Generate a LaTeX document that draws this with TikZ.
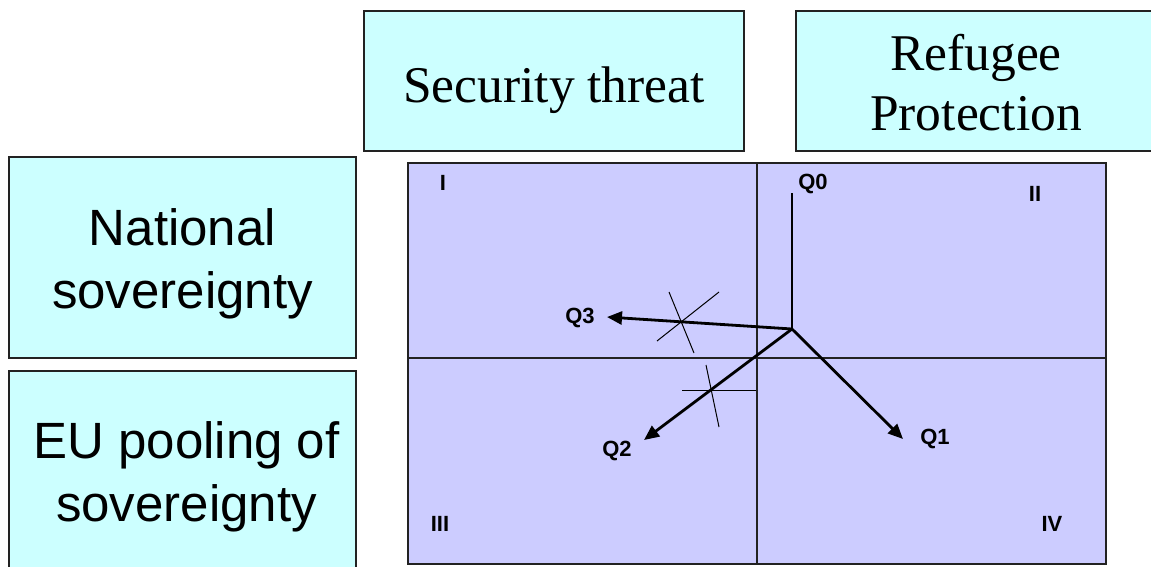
\documentclass[tikz,border=0pt]{standalone}
\usepackage{fontspec}
\setmainfont{Liberation Serif}
\newfontfamily\arialf{Liberation Sans}
\usetikzlibrary{arrows.meta}
\definecolor{cyanbg}{HTML}{CCFFFF}
\definecolor{purplebg}{HTML}{CCCCFF}
\definecolor{edge}{HTML}{222222}
\begin{document}
\begin{tikzpicture}[x=1pt,y=-1pt,
  labelbox/.style={draw=edge, line width=1.5pt, fill=cyanbg, inner sep=0pt},
  boxtext/.style={inner sep=0pt, align=center},
  serifbig/.style={font=\fontsize{51.5}{60}\selectfont},
  sansbig/.style={font=\arialf\fontsize{51}{63}\selectfont},
  qlabel/.style={font=\arialf\bfseries\fontsize{22}{24}\selectfont, inner sep=0pt},
  arrowline/.style={line width=2.8pt, -{Triangle[length=15pt,width=13pt]}},
  crossline/.style={line width=1pt},
  gridline/.style={line width=1.3pt, draw=edge}]
\useasboundingbox (0,0) rectangle (1151,566);
\clip (0,0) rectangle (1151,566);
% header boxes
\node[labelbox, minimum width=380pt, minimum height=140pt] (sec) at (554,81) {};
\node[boxtext, serifbig, text depth=0pt] (secT) at ([yshift=-4pt]sec.center) {Security threat};
\node[labelbox, minimum width=360pt, minimum height=140pt] (ref) at (976,81) {};
\node[boxtext, serifbig] (refT) at ([yshift=-2pt]ref.center) {Refugee\\Protection};
\node[labelbox, minimum width=347pt, minimum height=201pt] (nat) at (182.5,257.5) {};
\node[boxtext, sansbig] (natT) at ([yshift=-6pt]nat.center) {National\\sovereignty};
\node[labelbox, minimum width=347pt, minimum height=210pt] (eu) at (182.5,476) {};
\node[boxtext, sansbig] (euT) at ([xshift=4pt,yshift=-1pt]eu.center) {EU pooling of\\ sovereignty};
% grid
\node[draw=edge, line width=1.5pt, fill=purplebg, minimum width=698pt, minimum height=401pt, inner sep=0pt] (grid) at (757,363.5) {};
\coordinate (vt) at (757,163);
\coordinate (vb) at (757,564);
\coordinate (hl) at (408,358);
\coordinate (hr) at (1106,358);
\draw[gridline] (vt) -- (vb);
\draw[gridline] (hl) -- (hr);
% quadrant labels
\node[qlabel] (qI) at (443,183) {I};
\node[qlabel] (qII) at (1035,194) {II};
\node[qlabel] (qIII) at (440,524) {III};
\node[qlabel] (qIV) at (1052,524) {IV};
% Q points
\coordinate (v) at (792,329);
\coordinate (q0top) at (792,193);
\coordinate (t3) at (607,317);
\coordinate (t2) at (644,440);
\coordinate (t1) at (903,439);
\node[qlabel] (Q0) at (813,184) {Q0};
\node[qlabel] (Q3) at (580,318) {Q3};
\node[qlabel] (Q2) at (617,451) {Q2};
\node[qlabel] (Q1) at (935,439) {Q1};
\draw[line width=1.4pt] (v) -- (q0top);
\draw[arrowline] (v) -- (t3);
\draw[arrowline] (v) -- (t2);
\draw[arrowline] (v) -- (t1);
% crosses
\coordinate (c3a) at (669,292);
\coordinate (c3b) at (694,353);
\coordinate (c3c) at (719,292);
\coordinate (c3d) at (657,341);
\draw[crossline] (c3a) -- (c3b);
\draw[crossline] (c3c) -- (c3d);
\coordinate (c2a) at (682,390);
\coordinate (c2b) at (756,390);
\coordinate (c2c) at (706,365);
\coordinate (c2d) at (719,427);
\draw[crossline] (c2a) -- (c2b);
\draw[crossline] (c2c) -- (c2d);
\end{tikzpicture}
\end{document}
